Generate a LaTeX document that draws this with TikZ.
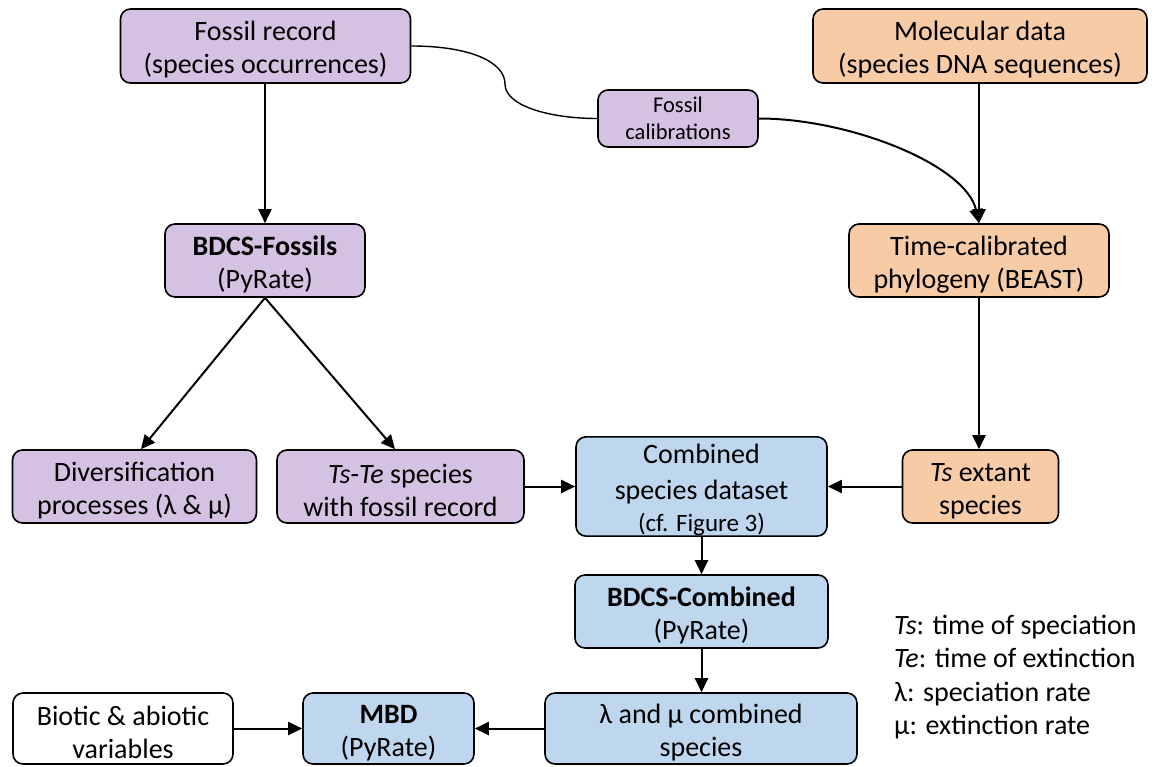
\documentclass[tikz,border=0pt]{standalone}
\usepackage{fontspec}
\setmainfont{Carlito}
\usetikzlibrary{arrows.meta}
\definecolor{purp}{HTML}{D5C2E2}
\definecolor{oran}{HTML}{F7CBA6}
\definecolor{blu}{HTML}{BED7EE}
\newcommand{\topstrutx}{\rule{0pt}{27pt}}
\begin{document}
\begin{tikzpicture}[x=1pt,y=-1pt,
  box/.style={draw=black, line width=1.6pt, rounded corners=10pt, align=center,
    inner sep=0pt, font=\fontsize{28}{33}\selectfont},
  arr/.style={line width=2pt, -{Triangle[length=14pt,width=13pt]}},
  legtxt/.style={anchor=base west, inner sep=0pt, font=\fontsize{28}{33}\selectfont}
]
\useasboundingbox (0,0) rectangle (1155,766);

\node[box, fill=purp, minimum width=290pt, minimum height=74pt] (fossil) at (265.5,46) {\topstrutx Fossil record\\(species occurrences)};
\node[box, fill=oran, minimum width=334pt, minimum height=74pt] (molec) at (980,46) {\topstrutx Molecular data\\(species DNA sequences)};
\node[box, fill=purp, minimum width=160pt, minimum height=57pt, font=\fontsize{22.5}{27}\selectfont] (cal) at (678,118.5) {Fossil\\calibrations};
\node[box, fill=purp, minimum width=200pt, minimum height=73pt] (bdcsf) at (265,260.5) {\topstrutx\textbf{BDCS-Fossils}\\(PyRate)};
\node[box, fill=oran, minimum width=260pt, minimum height=73pt] (tcal) at (979,260.5) {\topstrutx Time-calibrated\\phylogeny (BEAST)};
\node[box, fill=purp, minimum width=244pt, minimum height=73pt] (div) at (134.5,486.5) {\topstrutx Diversification\\processes (λ \& μ)};
\node[box, fill=purp, minimum width=247pt, minimum height=73pt] (tste) at (400.5,486.5) {\topstrutx\textit{Ts}-\textit{Te} species\\with fossil record};
\node[box, fill=blu, minimum width=251pt, minimum height=99pt] (comb) at (701.5,486.5) {\topstrutx Combined\\[3pt]species dataset\\[-1pt]{\fontsize{25}{30}\selectfont (cf. Figure 3)}};
\node[box, fill=oran, minimum width=156pt, minimum height=73pt] (tsext) at (980.5,486.5) {\topstrutx\textit{Ts} extant\\species};
\node[box, fill=blu, minimum width=253pt, minimum height=73pt] (bdcsc) at (701.5,611.5) {\topstrutx\textbf{BDCS-Combined}\\(PyRate)};
\node[box, fill=blu, minimum width=312pt, minimum height=71pt] (lam) at (701,728.5) {\topstrutx λ and μ combined\\species};
\node[box, fill=blu, minimum width=171pt, minimum height=71pt] (mbd) at (388.5,728.5) {\topstrutx\textbf{MBD}\\(PyRate)};
\node[box, fill=white, minimum width=220pt, minimum height=71pt] (bio) at (123,728.5) {\topstrutx Biotic \& abiotic\\variables};

\node[legtxt] (l1) at (894,634) {\textit{Ts}: time of speciation};
\node[legtxt] (l2) at (894,667.5) {\textit{Te}: time of extinction};
\node[legtxt] (l3) at (894,701) {λ: speciation rate};
\node[legtxt] (l4) at (894,734.5) {μ: extinction rate};

\draw[arr] (fossil.south -| bdcsf.north) -- (bdcsf.north);
\draw[arr] (molec.south -| tcal.north) -- (tcal.north);
\draw[line width=1.4pt] (fossil.east) .. controls (470,46) and (505,62) .. (505,84) .. controls (505,106) and (550,118.5) .. (cal.west);
\draw[arr] (cal.east) .. controls (850,118.5) and (966,165) .. (tcal.north);
\draw[arr] (bdcsf.south) -- ([xshift=6.5pt]div.north);
\draw[arr] (bdcsf.south) -- ([xshift=-5.5pt]tste.north);
\draw[arr] (tcal.south) -- (tcal.south |- tsext.north);
\draw[arr] (tste.east) -- (comb.west |- tste.east);
\draw[arr] (tsext.west) -- (comb.east |- tsext.west);
\draw[arr] (comb.south) -- (bdcsc.north);
\draw[arr] (bdcsc.south) -- (bdcsc.south |- lam.north);
\draw[arr] (lam.west) -- (mbd.east);
\draw[arr] (bio.east) -- (mbd.west);
\end{tikzpicture}
\end{document}
